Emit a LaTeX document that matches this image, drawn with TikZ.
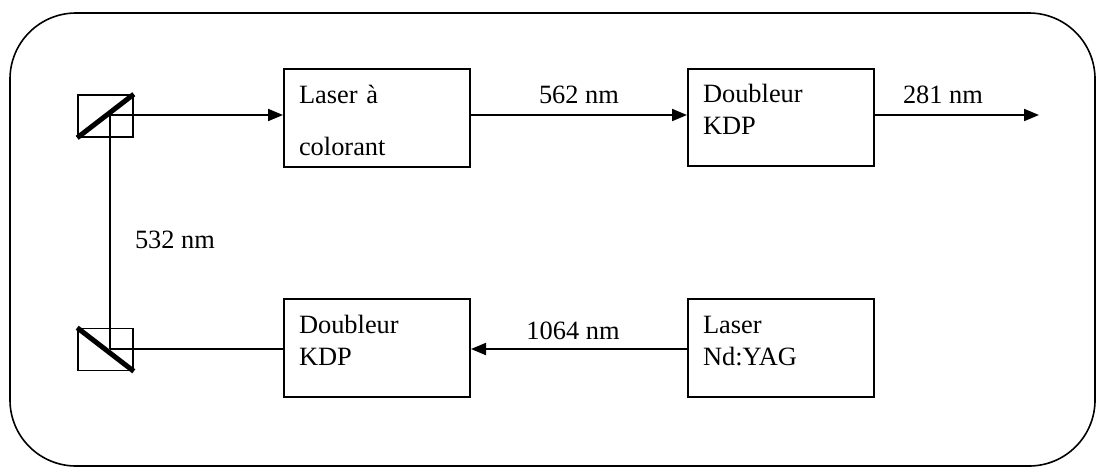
\documentclass[tikz,border=0pt]{standalone}
\usepackage{fontspec}
\setmainfont{Liberation Serif}
\usetikzlibrary{arrows.meta,positioning}

\begin{document}
\begin{tikzpicture}[
  x=0.5pt, y=-0.5pt,
  font=\fontsize{13.2pt}{16pt}\selectfont,
  >={Triangle[length=7.5pt,width=6pt]},
  bloc/.style={draw, line width=1pt, anchor=north west, align=left, text width=78pt, inner xsep=7.5pt, inner ysep=0pt, text height=17pt, text depth=32pt},
  cube/.style={draw, line width=0.8pt, minimum width=27.5pt, minimum height=21pt, inner sep=0pt},
  faisceau/.style={line width=1pt},
  lame/.style={line width=2.5pt},
  lbl/.style={inner sep=5pt}
]
\useasboundingbox (0,0) rectangle (1096,467);
\draw[line width=0.8pt, rounded corners=33pt] (10,13) rectangle (1095,466);

% cubes separateurs
\node[cube] (bs1) at (105.5,116) {};
\node[cube] (bs2) at (105.5,349.5) {};
\draw[lame] (bs1.south west) -- (bs1.north east);
\draw[lame] (bs2.north west) -- (bs2.south east);
\coordinate (p1) at (110,115);
\coordinate (p2) at (110,349);

% blocs
\node[bloc, font=\fontsize{13.2pt}{26pt}\selectfont] (colorant) at (283,68) {Laser à\\colorant};
\node[bloc, text height=16.5pt] (kdpA) at (687,68) {Doubleur\\KDP};
\node[bloc] (kdpB) at (283,298) {Doubleur\\KDP};
\node[bloc] (yag) at (687,298) {Laser\\Nd:YAG};
\coordinate (sortie) at (1039,115);

% faisceaux
\draw[faisceau,->] (p1) -- (p1 -| colorant.west);
\draw[faisceau,->] (colorant.east |- p1) -- node[lbl, above] {562 nm} (p1 -| kdpA.west);
\draw[faisceau,->] (kdpA.east |- p1) -- node[lbl, above, xshift=-7pt] {281 nm} (sortie);
\draw[faisceau,->] (yag.west |- p2) -- node[lbl, above, xshift=-3pt, inner sep=4pt] {1064 nm} (kdpB.east |- p2);
\draw[line width=0.65pt] (kdpB.west |- p2) -- (p2);
\draw[faisceau] (p1) -- node[pos=0.535, right=10pt, inner sep=2pt] {532 nm} (p2);
\end{tikzpicture}
\end{document}
